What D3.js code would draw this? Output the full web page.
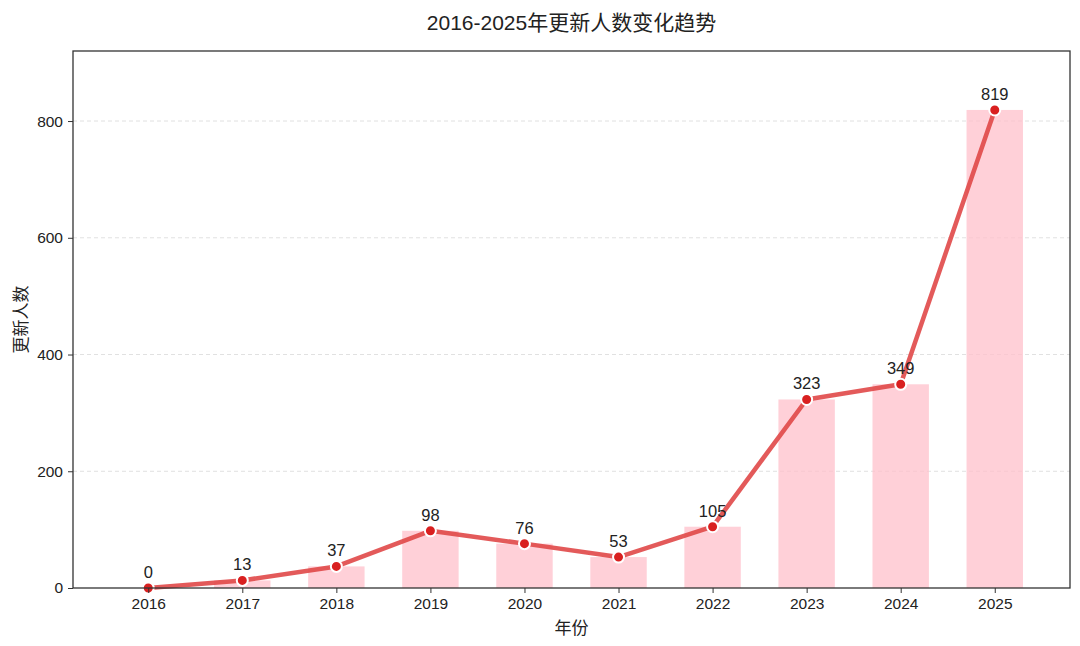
<!DOCTYPE html>
<html><head><meta charset="utf-8">
<script src="https://cdn.jsdelivr.net/npm/d3@7"></script>
<style>
body{margin:0;background:#fff;}
text{font-family:"Liberation Sans","Noto Sans CJK SC",Arial,sans-serif;fill:#222;}
</style></head><body>
<svg id="c" width="1080" height="646"></svg>
<script>
const years = ["2016","2017","2018","2019","2020","2021","2022","2023","2024","2025"];
const counts = [0,13,37,98,76,53,105,323,349,819];
const yTicks = [0,200,400,600,800];
const title = "2016-2025年更新人数变化趋势";
const xLabel = "年份";
const yLabel = "更新人数";

const svg = d3.select("#c");
const m = {l:73, r:1070, t:51, b:588};
const x = d3.scaleLinear().domain([-0.8, years.length - 1 + 0.8]).range([m.l, m.r]);
const y = d3.scaleLinear().domain([0, 920]).range([m.b, m.t]);
const bw = x(0.6) - x(0);

// grid
svg.append("g").selectAll("line").data(yTicks.filter(d=>d>0)).join("line")
  .attr("x1", m.l).attr("x2", m.r).attr("y1", d=>y(d)).attr("y2", d=>y(d))
  .attr("stroke","#d8d8d8").attr("stroke-width",0.8).attr("stroke-dasharray","4,3");

// bars
svg.append("g").selectAll("rect").data(counts).join("rect")
  .attr("x",(d,i)=>x(i)-bw/2).attr("width",bw)
  .attr("y",d=>y(d)).attr("height",d=>y(0)-y(d))
  .attr("fill","#ffc0cb").attr("opacity",0.75);

// line
const line = d3.line().x((d,i)=>x(i)).y(d=>y(d));
svg.append("path").datum(counts).attr("d",line)
  .attr("fill","none").attr("stroke","#e04848").attr("stroke-opacity",0.9)
  .attr("stroke-width",4.5).attr("stroke-linejoin","round");

// points
svg.append("g").selectAll("circle").data(counts).join("circle")
  .attr("cx",(d,i)=>x(i)).attr("cy",d=>y(d)).attr("r",5.5)
  .attr("fill","#d92020").attr("stroke","#fff").attr("stroke-width",2);

// value labels
svg.append("g").selectAll("text").data(counts).join("text")
  .attr("x",(d,i)=>x(i)).attr("y",d=>y(d)-10)
  .attr("text-anchor","middle").attr("font-size",16.5).text(d=>d);

// axes
const xAxis = d3.axisBottom(x).tickValues(d3.range(years.length)).tickFormat(i=>years[i]).tickSize(5).tickPadding(5);
const gx = svg.append("g").attr("transform",`translate(0,${m.b})`).call(xAxis);
gx.select(".domain").remove();
gx.selectAll("line").attr("stroke","#333");
gx.selectAll("text").attr("font-size",15.5).attr("fill","#222")
  .style("font-family",'"Liberation Sans","Noto Sans CJK SC",Arial,sans-serif');

const yAxis = d3.axisLeft(y).tickValues(yTicks).tickSize(5).tickPadding(5);
const gy = svg.append("g").attr("transform",`translate(${m.l},0)`).call(yAxis);
gy.select(".domain").remove();
gy.selectAll("line").attr("stroke","#333");
gy.selectAll("text").attr("font-size",15.5).attr("fill","#222")
  .style("font-family",'"Liberation Sans","Noto Sans CJK SC",Arial,sans-serif');

// frame
svg.append("rect").attr("x",m.l).attr("y",m.t).attr("width",m.r-m.l).attr("height",m.b-m.t)
  .attr("fill","none").attr("stroke","#333").attr("stroke-width",1.3);

// titles
svg.append("text").attr("x",(m.l+m.r)/2).attr("y",30).attr("text-anchor","middle")
  .attr("font-size",21).text(title);
svg.append("text").attr("x",(m.l+m.r)/2).attr("y",634).attr("text-anchor","middle")
  .attr("font-size",17).text(xLabel);
svg.append("text").attr("transform",`translate(27,${(m.t+m.b)/2}) rotate(-90)`)
  .attr("text-anchor","middle").attr("font-size",17).text(yLabel);
</script></body></html>
